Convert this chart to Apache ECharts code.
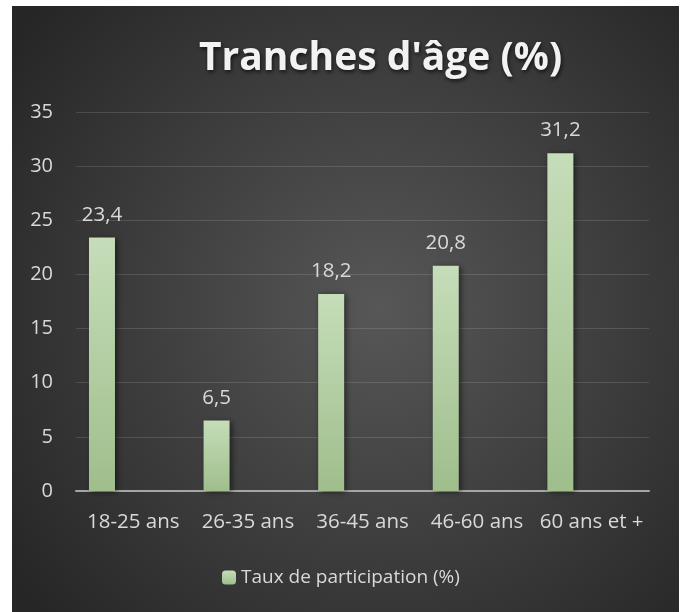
<!DOCTYPE html>
<html>
<head>
<meta charset="utf-8">
<script src="https://cdn.jsdelivr.net/npm/echarts@6/dist/echarts.min.js"></script>
<style>
    html, body {margin: 0; padding: 0; background: #ffffff;}
    #chart {position: absolute; left: 12px; top: 6px; width: 667px; height: 606px;}
</style>
</head>
<body>
<div id="chart"></div>
<script>
var categories = ['18-25 ans', '26-35 ans', '36-45 ans', '46-60 ans', '60 ans et +'];
var participation = [23.4, 6.5, 18.2, 20.8, 31.2];
var seriesName = 'Taux de participation (%)';

var myChart = echarts.init(document.getElementById('chart'));
var fontName = 'Open Sans';

var option = {
    backgroundColor: {
        type: 'radial',
        x: 0.55,
        y: 0.5,
        r: 0.75,
        colorStops: [
            {offset: 0, color: '#575757'},
            {offset: 1, color: '#262626'}
        ]
    },
    animation: false,
    title: {
        text: "Tranches d'âge (%)",
        left: 182,
        top: 28,
        textStyle: {
            color: '#f2f2f2',
            fontFamily: fontName,
            fontSize: 39,
            fontWeight: 'bold',
            textShadowColor: 'rgba(0,0,0,0.7)',
            textShadowBlur: 4,
            textShadowOffsetX: 1,
            textShadowOffsetY: 2
        }
    },
    legend: {
        data: [seriesName],
        left: 205,
        top: 557,
        itemWidth: 14,
        itemHeight: 14,
        itemGap: 5,
        textStyle: {color: '#d9d9d9', fontFamily: fontName, fontSize: 19}
    },
    grid: {left: 64, right: 30, top: 106, bottom: 121},
    xAxis: {
        type: 'category',
        data: categories,
        axisTick: {show: false},
        axisLine: {lineStyle: {color: '#a6a6a6', width: 2}},
        axisLabel: {interval: 0, color: '#d9d9d9', fontFamily: fontName, fontSize: 20.5, margin: 21}
    },
    yAxis: {
        type: 'value',
        min: 0,
        max: 35,
        interval: 5,
        axisLine: {show: false},
        axisTick: {show: false},
        axisLabel: {color: '#d9d9d9', fontFamily: fontName, fontSize: 20, margin: 23},
        splitLine: {lineStyle: {color: 'rgba(255,255,255,0.13)', width: 1}}
    },
    series: [{
        name: seriesName,
        type: 'bar',
        data: participation,
        barWidth: 26,
        barGap: '141%',
        itemStyle: {
            color: {
                type: 'linear', x: 0, y: 0, x2: 0, y2: 1,
                colorStops: [
                    {offset: 0, color: '#c5ddb9'},
                    {offset: 1, color: '#9fbe8c'}
                ]
            },
            shadowColor: 'rgba(0,0,0,0.55)',
            shadowBlur: 6,
            shadowOffsetX: 2,
            shadowOffsetY: 1
        },
        label: {
            show: true,
            position: 'top',
            distance: 12,
            color: '#d9d9d9',
            fontFamily: fontName,
            fontSize: 20.5,
            formatter: function (p) {
                return p.value.toFixed(1).replace('.', ',');
            }
        }
    }, {
        // serie vide pour décaler les barres comme dans Excel
        name: 'vide',
        type: 'bar',
        data: [],
        barWidth: 26
    }]
};
myChart.setOption(option);
</script>
</body>
</html>
